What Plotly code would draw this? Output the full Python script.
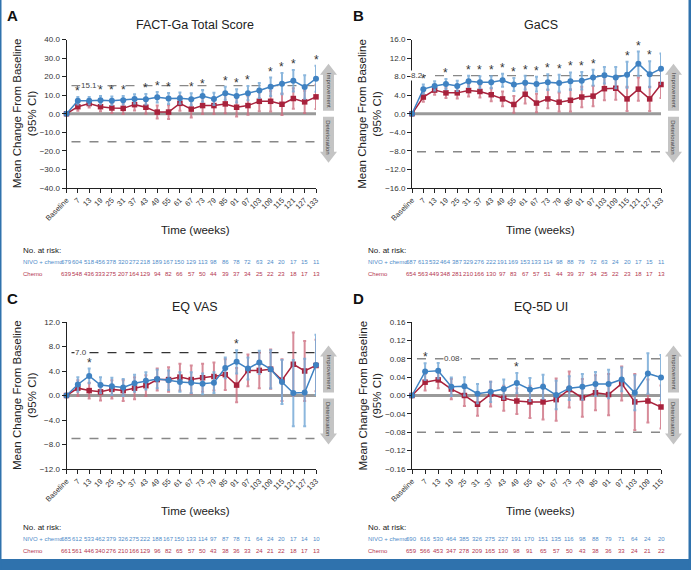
import plotly.graph_objects as go

W, H = 691, 570
FONT = "Liberation Sans, Arial, sans-serif"
BLUE = "#3f82c2"
BLUE_CI = "rgba(120,170,215,0.85)"
RED = "#a8223c"
RED_CI = "rgba(205,110,128,0.8)"
BLUE_TXT = "#4f8cc9"
RED_TXT = "#b3354f"

weeks = ["Baseline", "7", "13", "19", "25", "31", "37", "43", "49", "55", "61", "67",
         "73", "79", "85", "91", "97", "103", "109", "115", "121", "127", "133"]
weeks_d = weeks[:20]

# A: FACT-Ga total score
fact_nivo = [0, 7.0, 7.0, 7.3, 7.0, 7.3, 8.0, 7.8, 8.9, 8.2, 8.4, 7.8, 9.6, 8.0, 11.1, 9.6,
             11.1, 12.5, 14.5, 16.2, 17.8, 14.4, 18.9]
fact_nivo_ci = [0, 2.0, 2.0, 2.2, 2.3, 2.3, 2.5, 2.8, 2.8, 3.0, 3.0, 3.2, 3.2, 3.3, 3.5, 3.6,
                3.8, 4.0, 5.0, 5.7, 5.8, 6.3, 7.0]
fact_chemo = [0, 3.8, 5.5, 3.8, 3.1, 2.9, 4.9, 3.5, 0.9, 0.9, 5.6, 2.5, 4.4, 4.4, 5.3, 3.5,
              4.4, 6.7, 6.7, 5.1, 8.2, 6.4, 9.1]
fact_chemo_ci = [0, 2.2, 2.2, 2.5, 2.7, 3.0, 3.2, 3.5, 3.5, 3.7, 4.0, 4.5, 4.5, 4.5, 5.0, 5.0,
                 5.0, 5.3, 5.5, 5.8, 5.5, 6.0, 6.5]
fact_sig = ["7", "19", "25", "31", "43", "49", "55", "67", "73", "85", "91", "97", "109",
            "115", "121", "133"]
fact_risk_nivo = [679, 604, 518, 456, 378, 320, 272, 218, 189, 167, 150, 129, 113, 98, 86,
                  78, 72, 63, 24, 20, 17, 15, 11]
fact_risk_chemo = [639, 548, 436, 333, 275, 207, 164, 129, 94, 82, 66, 57, 50, 44, 39, 37,
                   34, 25, 22, 23, 18, 17, 13]

# B: GaCS
gacs_nivo = [0, 5.3, 6.0, 6.4, 6.0, 7.0, 6.8, 6.8, 7.2, 6.3, 6.7, 6.4, 6.8, 6.6, 7.0, 7.1,
             7.8, 8.3, 7.8, 8.4, 10.8, 8.5, 9.7]
gacs_nivo_ci = [0, 1.0, 1.0, 1.1, 1.1, 1.2, 1.3, 1.3, 1.4, 1.4, 1.5, 1.6, 1.7, 1.8, 1.9, 1.9,
                1.7, 1.8, 2.3, 2.8, 2.6, 2.8, 3.3]
gacs_chemo = [0, 3.6, 5.1, 4.5, 4.5, 5.0, 4.8, 4.1, 3.2, 2.0, 4.2, 2.3, 3.2, 2.5, 2.9, 3.6,
              3.8, 5.4, 5.5, 3.2, 5.3, 3.2, 6.3]
gacs_chemo_ci = [0, 1.0, 1.0, 1.1, 1.2, 1.3, 1.3, 1.4, 1.6, 1.8, 2.0, 2.0, 2.0, 2.0, 2.4, 2.2,
                 2.2, 2.5, 2.5, 2.6, 2.5, 2.6, 2.9]
gacs_sig = ["7", "19", "31", "37", "43", "49", "55", "61", "67", "73", "79", "85", "91", "97",
            "115", "121", "127"]
gacs_risk_nivo = [687, 613, 532, 464, 387, 329, 276, 222, 191, 169, 153, 133, 114, 98, 88,
                  79, 72, 63, 24, 20, 17, 15, 11]
gacs_risk_chemo = [654, 563, 449, 348, 281, 210, 166, 130, 97, 83, 67, 57, 51, 44, 39, 37,
                   34, 25, 22, 23, 18, 17, 13]

# C: EQ VAS
vas_nivo = [0, 1.8, 3.2, 1.7, 1.5, 1.3, 2.0, 2.4, 2.7, 2.5, 2.2, 2.1, 1.9, 2.1, 4.5, 5.5,
            4.4, 5.4, 4.3, 2.2, 0.4, 0.5, 5.0]
vas_nivo_ci = [0, 1.2, 1.2, 1.3, 1.4, 1.4, 1.4, 1.4, 1.5, 1.6, 1.6, 1.7, 1.7, 1.7, 1.7, 1.9,
               1.8, 1.9, 3.1, 3.6, 5.4, 5.5, 4.9]
vas_chemo = [0, 1.2, 0.8, 0.6, 1.0, 0.8, 1.2, 1.6, 2.6, 2.6, 3.0, 2.6, 2.9, 3.1, 3.4, 1.7,
             4.1, 4.1, 4.3, 2.5, 5.1, 4.0, 4.9]
vas_chemo_ci = [0, 1.3, 1.3, 1.4, 1.5, 1.7, 1.8, 1.7, 1.8, 2.0, 2.2, 2.3, 2.3, 2.3, 2.5, 2.8,
                2.6, 2.9, 3.2, 3.4, 5.2, 4.9, 4.2]
vas_sig = ["13", "91"]
vas_risk_nivo = [685, 612, 533, 462, 379, 326, 275, 222, 188, 167, 150, 133, 114, 97, 87,
                 78, 71, 64, 24, 20, 17, 14, 10]
vas_risk_chemo = [661, 561, 446, 340, 276, 210, 166, 129, 96, 82, 65, 57, 50, 43, 38, 36,
                  33, 24, 21, 22, 18, 17, 13]

# D: EQ-5D UI
ui_nivo = [0, 0.052, 0.054, 0.019, 0.020, 0.004, 0.008, 0.014, 0.027, 0.013, 0.019, 0.001,
           0.016, 0.019, 0.025, 0.025, 0.035, 0.006, 0.048, 0.039]
ui_nivo_ci = [0, 0.018, 0.017, 0.020, 0.020, 0.021, 0.022, 0.021, 0.022, 0.025, 0.026, 0.031,
              0.026, 0.028, 0.026, 0.031, 0.026, 0.038, 0.044, 0.049]
ui_chemo = [0, 0.029, 0.034, 0.014, 0.000, -0.019, 0.003, -0.006, -0.012, -0.014, -0.014,
            -0.009, 0.013, -0.005, 0.006, 0.002, 0.026, -0.014, -0.012, -0.025]
ui_chemo_ci = [0, 0.018, 0.018, 0.022, 0.023, 0.025, 0.027, 0.027, 0.028, 0.035, 0.038, 0.046,
               0.039, 0.041, 0.038, 0.045, 0.037, 0.061, 0.047, 0.047]
ui_sig = ["7", "49"]
ui_risk_nivo = [690, 616, 530, 464, 385, 326, 275, 227, 191, 170, 151, 135, 116, 98, 88, 79,
                71, 64, 24, 20]
ui_risk_chemo = [659, 566, 453, 347, 278, 209, 165, 130, 98, 91, 65, 57, 50, 43, 38, 36, 33,
                 24, 21, 22]


def px(x):
    return x / W


def py(y):
    return 1 - y / H


panels = [
    dict(letter="A", title="FACT-Ga Total Score", x=weeks, nivo=fact_nivo, nivo_ci=fact_nivo_ci,
         chemo=fact_chemo, chemo_ci=fact_chemo_ci, sig=fact_sig, rn=fact_risk_nivo,
         rc=fact_risk_chemo, ymax=40, dt=10, fmt=".1f", mid=15.1, mid_lbl="15.1",
         lbl_px=89, top_dark=False, left=66.5, right=316, top=39.5, bot=188, oy=0),
    dict(letter="B", title="GaCS", x=weeks, nivo=gacs_nivo, nivo_ci=gacs_nivo_ci,
         chemo=gacs_chemo, chemo_ci=gacs_chemo_ci, sig=gacs_sig, rn=gacs_risk_nivo,
         rc=gacs_risk_chemo, ymax=16, dt=4, fmt=".1f", mid=8.2, mid_lbl="8.2",
         lbl_px=417, top_dark=False, left=412, right=661, top=39.5, bot=188, oy=0),
    dict(letter="C", title="EQ VAS", x=weeks, nivo=vas_nivo, nivo_ci=vas_nivo_ci,
         chemo=vas_chemo, chemo_ci=vas_chemo_ci, sig=vas_sig, rn=vas_risk_nivo,
         rc=vas_risk_chemo, ymax=12, dt=4, fmt=".1f", mid=7.0, mid_lbl="7.0",
         lbl_px=81, top_dark=True, left=66.5, right=316, top=322, bot=469, oy=277),
    dict(letter="D", title="EQ-5D UI", x=weeks_d, nivo=ui_nivo, nivo_ci=ui_nivo_ci,
         chemo=ui_chemo, chemo_ci=ui_chemo_ci, sig=ui_sig, rn=ui_risk_nivo,
         rc=ui_risk_chemo, ymax=0.16, dt=0.04, fmt=".2f", mid=0.08, mid_lbl="0.08",
         lbl_px=452, top_dark=False, left=412, right=661, top=322, bot=469, oy=277),
]

fig = go.Figure()
annotations = []
shapes = []
layout_axes = {}


def note(x, y, text, size, color="#222", xref="paper", yref="paper", **kw):
    d = dict(xref=xref, yref=yref, x=x, y=y, text=text, showarrow=False,
             xanchor=kw.pop("xanchor", "center"), yanchor=kw.pop("yanchor", "middle"),
             font=dict(size=size, color=color))
    d.update(kw)
    annotations.append(d)


def arrow(cx, y0, y1, up):
    hw, sw, hl = 8.5, 5.5, 11
    if up:
        tip, base, hb = y0, y1, y0 + hl
    else:
        tip, base, hb = y1, y0, y1 - hl
    pts = [(cx, tip), (cx + hw, hb), (cx + sw, hb), (cx + sw, base), (cx - sw, base),
           (cx - sw, hb), (cx - hw, hb)]
    return "M " + " L ".join(f"{px(a):.5f},{py(b):.5f}" for a, b in pts) + " Z"


for i, p in enumerate(panels, start=1):
    xa = "x" if i == 1 else f"x{i}"
    ya = "y" if i == 1 else f"y{i}"
    xd = f"{xa} domain"
    n = len(p["x"])
    ymax = p["ymax"]
    ticks = [round(-ymax + k * p["dt"], 4) for k in range(int(round(2 * ymax / p["dt"])) + 1)]

    layout_axes["xaxis" if i == 1 else f"xaxis{i}"] = dict(
        domain=[px(p["left"]), px(p["right"])], anchor=ya, type="category",
        range=[0, n - 1], showline=True, linecolor="#222", linewidth=1, ticks="outside",
        ticklen=4, tickcolor="#222", tickangle=-45, showgrid=False, automargin=False,
        tickfont=dict(size=7.5, color="#333"))
    layout_axes["yaxis" if i == 1 else f"yaxis{i}"] = dict(
        domain=[py(p["bot"]), py(p["top"])], anchor=xa, range=[-ymax, ymax],
        tickvals=ticks, tickformat=p["fmt"], showline=True, linecolor="#222", linewidth=1,
        ticks="outside", ticklen=4, tickcolor="#222", showgrid=False, zeroline=False,
        automargin=False, tickfont=dict(size=8, color="#333"))

    # reference lines
    shapes.append(dict(type="line", xref=xd, yref=ya, x0=0, x1=1, y0=0, y1=0,
                       line=dict(color="#9a9a9a", width=3), layer="below"))
    shapes.append(dict(type="line", xref=xd, yref=ya, x0=0.02, x1=1,
                       y0=p["mid"], y1=p["mid"],
                       line=dict(color="#333" if p["top_dark"] else "#888", width=1.3,
                                 dash="dash"), layer="below"))
    shapes.append(dict(type="line", xref=xd, yref=ya, x0=0.02, x1=1,
                       y0=-p["mid"], y1=-p["mid"],
                       line=dict(color="#888", width=1.5, dash="dash"), layer="below"))
    note(px(p["lbl_px"]), p["mid"], p["mid_lbl"], 8, "#444", yref=ya, bgcolor="white",
         borderpad=0)

    fig.add_trace(go.Scatter(
        x=p["x"], y=p["chemo"], xaxis=xa, yaxis=ya, mode="lines+markers", cliponaxis=False,
        line=dict(color=RED, width=1.5), marker=dict(symbol="square", size=5.5, color=RED),
        error_y=dict(type="data", array=p["chemo_ci"], color=RED_CI, thickness=2, width=1.5),
        showlegend=False))
    fig.add_trace(go.Scatter(
        x=p["x"], y=p["nivo"], xaxis=xa, yaxis=ya, mode="lines+markers", cliponaxis=False,
        line=dict(color=BLUE, width=1.5), marker=dict(symbol="circle", size=6, color=BLUE),
        error_y=dict(type="data", array=p["nivo_ci"], color=BLUE_CI, thickness=2, width=1.5),
        showlegend=False))

    # significance markers, placed by category position within the x domain
    for wk in p["sig"]:
        k = p["x"].index(wk)
        note(k / (n - 1), p["nivo"][k] + p["nivo_ci"][k], "*", 12, "#333", xref=xd, yref=ya,
             yshift=6)

    cx = (p["left"] + p["right"]) / 2 + 4
    note(px(cx), py(p["top"] - 15), p["title"], 12.5)
    note(px(p["left"] - 54), py(p["top"] - 24), f"<b>{p['letter']}</b>", 15, "#111")
    note(px(p["left"] - 42), py((p["top"] + p["bot"]) / 2),
         "Mean Change From Baseline<br>(95% CI)", 11.5, textangle=-90)
    note(px(cx), py(p["bot"] + 42), "Time (weeks)", 11.5)

    # improvement / deterioration arrows
    zero_px = (p["top"] + p["bot"]) / 2
    ax = p["right"] + 12.5
    for up, y0, y1, txt in [(True, zero_px - 50, zero_px - 3, "Improvement"),
                            (False, zero_px + 3, zero_px + 49, "Deterioration")]:
        shapes.append(dict(type="path", xref="paper", yref="paper", path=arrow(ax, y0, y1, up),
                           fillcolor="#c4c4c4", line=dict(width=0)))
        note(px(ax), py((y0 + y1) / 2 + (3 if up else -3)), txt, 6, "#444", textangle=90)

    # number at risk table
    rx = p["left"] - 46
    note(px(rx), py(p["oy"] + 250), "No. at risk:", 8, xanchor="left")
    for lbl, vals, col, yy in [("NIVO + chemo", p["rn"], BLUE_TXT, p["oy"] + 262),
                               ("Chemo", p["rc"], RED_TXT, p["oy"] + 274)]:
        note(px(rx), py(yy), lbl, 6, col, xanchor="left")
        for k, v in enumerate(vals):
            note(k / (n - 1), py(yy), str(v), 6, col, xref=xd)

# page frame
shapes.append(dict(type="rect", xref="paper", yref="paper", x0=0, x1=1, y0=0, y1=py(559),
                   fillcolor="#2f72ad", line=dict(width=0)))
shapes.append(dict(type="rect", xref="paper", yref="paper", x0=0, x1=px(1.5), y0=0, y1=1,
                   fillcolor="#2f72ad", line=dict(width=0)))
shapes.append(dict(type="rect", xref="paper", yref="paper", x0=px(688.5), x1=1, y0=0, y1=1,
                   fillcolor="#2f72ad", line=dict(width=0)))

fig.update_layout(
    width=W, height=H, margin=dict(l=0, r=0, t=0, b=0, pad=0, autoexpand=False),
    paper_bgcolor="white", plot_bgcolor="white", hovermode=False,
    font=dict(family=FONT, color="#222"),
    annotations=annotations, shapes=shapes, showlegend=False,
    **layout_axes,
)

# drop the browser's default page margin so the figure sits at the window origin
fig.write_html("out.html", config={"displayModeBar": False},
               post_script="document.body.style.margin='0';")
